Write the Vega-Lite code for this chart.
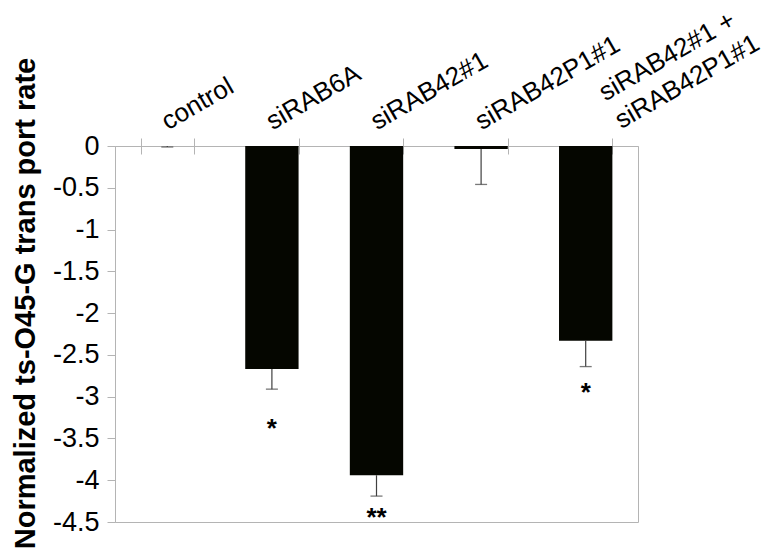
{
  "$schema": "https://vega.github.io/schema/vega-lite/v6.json",
  "autosize": "none",
  "width": 523,
  "height": 376,
  "padding": {"left": 115, "top": 146, "right": 135, "bottom": 31},
  "background": "white",
  "config": {
    "view": {"stroke": "#b4b4b4", "strokeWidth": 1},
    "font": "Liberation Sans"
  },
  "resolve": {"axis": {"x": "independent"}},
  "data": {
    "values": [
      {"group": "control", "value": 0, "err": -0.012, "sig": "", "sig_pos": 0},
      {"group": "siRAB6A", "value": -2.67, "err": -2.91, "sig": "*", "sig_pos": -3.31},
      {"group": "siRAB42#1", "value": -3.94, "err": -4.19, "sig": "**", "sig_pos": -4.38},
      {"group": "siRAB42P1#1", "value": -0.035, "err": -0.46, "sig": "", "sig_pos": 0},
      {"group": "siRAB42#1 + siRAB42P1#1", "value": -2.33, "err": -2.64, "sig": "*", "sig_pos": -2.89}
    ]
  },
  "layer": [
    {
      "mark": {"type": "bar", "color": "#050600"},
      "encoding": {
        "x": {
          "field": "group",
          "type": "nominal",
          "sort": ["control", "siRAB6A", "siRAB42#1", "siRAB42P1#1", "siRAB42#1 + siRAB42P1#1"],
          "scale": {"paddingInner": 0.49, "paddingOuter": 0.245},
          "axis": {
            "orient": "top",
            "title": null,
            "domainColor": "#b4b4b4",
            "tickColor": "#b4b4b4",
            "tickSize": 8,
            "tickBand": "extent",
            "labelAngle": -30,
            "labelAlign": "left",
            "labelBaseline": "alphabetic",
            "labelPadding": {"condition": {"test": "datum.value == 'siRAB42#1 + siRAB42P1#1'", "value": 37}, "value": 8},
            "labelFont": "Liberation Sans",
            "labelFontSize": 26,
            "labelColor": "black",
            "labelLimit": 0,
            "labelOverlap": false,
            "labelBound": false,
            "labelFlush": false,
            "labelLineHeight": 32,
            "labelOffset": {"condition": {"test": "datum.value == 'siRAB42#1 + siRAB42P1#1'", "value": 19}, "value": 0},
            "labelExpr": "datum.value == 'siRAB42#1 + siRAB42P1#1' ? ['siRAB42#1 +', 'siRAB42P1#1'] : datum.label"
          }
        },
        "y": {
          "field": "value",
          "type": "quantitative",
          "scale": {"domain": [-4.5, 0], "nice": false, "zero": false},
          "axis": {
            "values": [0, -0.5, -1, -1.5, -2, -2.5, -3, -3.5, -4, -4.5],
            "labelExpr": "'' + datum.value",
            "grid": false,
            "domainColor": "#b4b4b4",
            "tickColor": "#b4b4b4",
            "tickSize": 8,
            "labelFont": "Liberation Sans",
            "labelFontSize": 27,
            "labelColor": "black",
            "labelPadding": 8,
            "title": "Normalized ts-O45-G trans port rate",
            "titleFont": "Liberation Sans",
            "titleFontWeight": "bold",
            "titleFontSize": 29,
            "titleColor": "black",
            "titleAngle": -90,
            "titleAlign": "center",
            "titleBaseline": "middle",
            "titleX": -90,
            "titleY": 157
          }
        },
        "y2": {"datum": 0}
      }
    },
    {
      "mark": {"type": "rule", "color": "#404040", "strokeWidth": 1.2},
      "encoding": {
        "x": {
          "field": "group",
          "type": "nominal",
          "sort": ["control", "siRAB6A", "siRAB42#1", "siRAB42P1#1", "siRAB42#1 + siRAB42P1#1"],
          "axis": {
            "orient": "top",
            "title": null,
            "offset": 0,
            "domain": false,
            "labels": false,
            "tickColor": "#b4b4b4",
            "tickSize": -8,
            "tickBand": "extent"
          }
        },
        "y": {"field": "value", "type": "quantitative"},
        "y2": {"field": "err"}
      }
    },
    {
      "mark": {"type": "tick", "color": "#404040", "thickness": 1.3, "size": 12},
      "encoding": {
        "x": {"field": "group", "type": "nominal", "sort": ["control", "siRAB6A", "siRAB42#1", "siRAB42P1#1", "siRAB42#1 + siRAB42P1#1"], "axis": null},
        "y": {"field": "err", "type": "quantitative"}
      }
    },
    {
      "mark": {"type": "text", "fontSize": 26, "fontWeight": "bold", "color": "black", "baseline": "middle", "dy": 6, "font": "Liberation Sans"},
      "encoding": {
        "x": {"field": "group", "type": "nominal", "sort": ["control", "siRAB6A", "siRAB42#1", "siRAB42P1#1", "siRAB42#1 + siRAB42P1#1"], "axis": null},
        "y": {"field": "sig_pos", "type": "quantitative"},
        "text": {"field": "sig"}
      }
    }
  ]
}
